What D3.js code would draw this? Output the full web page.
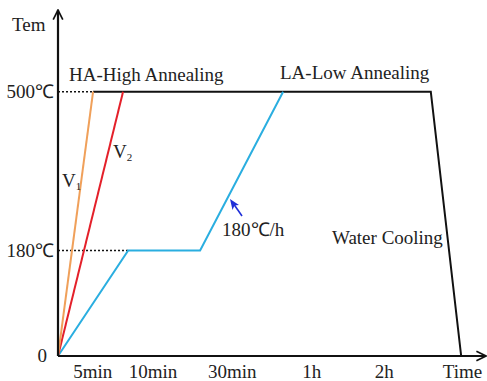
<!DOCTYPE html>
<html>
<head>
<meta charset="utf-8">
<script src="https://cdn.jsdelivr.net/npm/d3@7"></script>
<style>
body{margin:0;background:#fff;}
text{font-family:"Liberation Serif","Times New Roman",serif;fill:#222;}
</style>
</head>
<body>
<div id="chart"></div>
<script>
// schematic time axis, 0..100 along the arrow
var tickLabels=["5min","10min","30min","1h","2h","Time"]
var tickPos=[8.1,22.2,40.7,59.3,76.2,94.5]
// temperature levels (schematic, not to scale)
var tempLevels=[0,180,500]
var tempLabels=["0","180℃","500℃"]

// heating paths [t, temp]
var v1=[[0,0],[8.2,500]]
var v2=[[0,0],[15.2,500]]
var la=[[0,0],[16.4,180],[33.2,180],[52.6,500]]
var hold=[[8.2,500],[87.1,500],[94.2,0]]

var W=487,H=381
var x0=58,y0=356
var fs="19px"

var svg=d3.select("#chart").append("svg").attr("width",W).attr("height",H)

var x=d3.scaleLinear().domain([0,100]).range([x0,486])
var y=d3.scaleLinear().domain(tempLevels).range([y0,250.5,91.7])

var line=d3.line().x(d=>x(d[0])).y(d=>y(d[1]))

// dotted guides
svg.append("line").attr("x1",x(0)).attr("x2",x(v1[1][0])).attr("y1",y(500)).attr("y2",y(500))
  .attr("stroke","#111").attr("stroke-width",1.6).attr("stroke-dasharray","2,2")
svg.append("line").attr("x1",x(0)).attr("x2",x(la[1][0])).attr("y1",y(180)).attr("y2",y(180))
  .attr("stroke","#111").attr("stroke-width",1.6).attr("stroke-dasharray","2,2")

svg.append("path").attr("d",line(hold)).attr("fill","none").attr("stroke","#111").attr("stroke-width",2)
svg.append("path").attr("d",line(la)).attr("fill","none").attr("stroke","#2aaee0").attr("stroke-width",2)
svg.append("path").attr("d",line(v2)).attr("fill","none").attr("stroke","#e4202a").attr("stroke-width",2)
svg.append("path").attr("d",line(v1)).attr("fill","none").attr("stroke","#f0a05a").attr("stroke-width",2)

// axes with arrows
svg.append("defs").append("marker").attr("id","arr").attr("viewBox","0 0 10 10")
  .attr("refX",9).attr("refY",5).attr("markerWidth",12).attr("markerHeight",12)
  .attr("markerUnits","userSpaceOnUse").attr("orient","auto")
  .append("path").attr("d","M1,1 L9,5 L1,9").attr("fill","none").attr("stroke","#111").attr("stroke-width",1.4)
svg.append("line").attr("x1",x0).attr("y1",y0).attr("x2",x0).attr("y2",10)
  .attr("stroke","#111").attr("stroke-width",2.2).attr("marker-end","url(#arr)")
svg.append("line").attr("x1",x0).attr("y1",y0).attr("x2",486).attr("y2",y0)
  .attr("stroke","#111").attr("stroke-width",2.2).attr("marker-end","url(#arr)")

// tick labels
svg.selectAll(".xl").data(tickLabels).join("text")
  .attr("x",(d,i)=>x(tickPos[i])).attr("y",378).attr("text-anchor","middle")
  .style("font-size",fs).text(d=>d)
svg.selectAll(".yl").data(tempLabels).join("text")
  .attr("x",(d,i)=>i==0?47:54).attr("y",(d,i)=>y(tempLevels[i])+6).attr("text-anchor","end")
  .style("font-size",fs).text(d=>d)

svg.append("text").attr("x",12).attr("y",31).style("font-size",fs).text("Tem")
svg.append("text").attr("x",69).attr("y",81).style("font-size",fs).text("HA-High Annealing")
svg.append("text").attr("x",280).attr("y",79).style("font-size",fs).text("LA-Low Annealing")
svg.append("text").attr("x",332).attr("y",244).style("font-size",fs).text("Water Cooling")
svg.append("text").attr("x",222).attr("y",236).style("font-size",fs).text("180℃/h")

var t1=svg.append("text").attr("x",62).attr("y",187).style("font-size",fs)
t1.append("tspan").text("V")
t1.append("tspan").attr("dy",3).style("font-size","11px").text("1")
var t2=svg.append("text").attr("x",113).attr("y",158).style("font-size",fs)
t2.append("tspan").text("V")
t2.append("tspan").attr("dy",3).style("font-size","11px").text("2")

// blue arrow marking the ramp rate
svg.append("line").attr("x1",242).attr("y1",216).attr("x2",233).attr("y2",203)
  .attr("stroke","#1f2fd8").attr("stroke-width",1.6)
svg.append("path").attr("d","M230,199 L239,205 L234.5,205.5 L232.5,210 Z").attr("fill","#1f2fd8")
</script>
</body>
</html>
